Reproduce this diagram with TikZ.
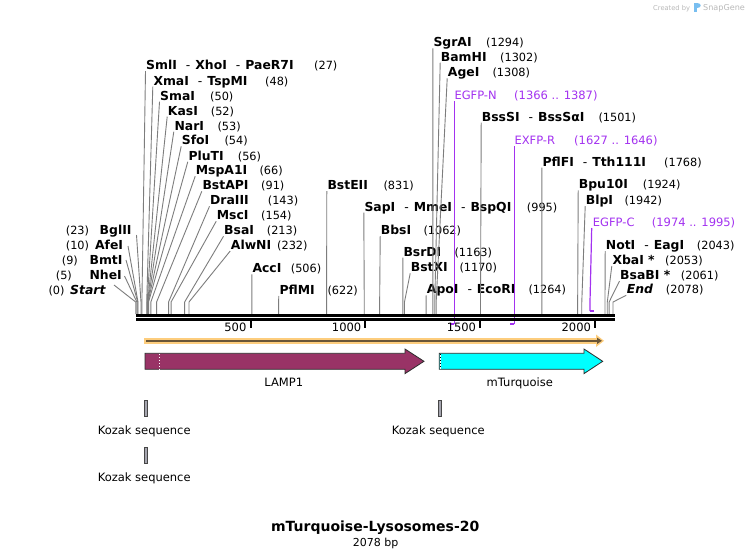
\documentclass[tikz,border=0pt]{standalone}
\usepackage{fontspec}
\setmainfont{DejaVu Sans}
\usetikzlibrary{arrows.meta}
\definecolor{sitegray}{RGB}{125,125,125}
\definecolor{primerc}{RGB}{163,50,240}
\definecolor{lampc}{RGB}{153,51,102}
\definecolor{turqc}{RGB}{0,255,255}
\definecolor{glowc}{RGB}{253,205,125}
\definecolor{corec}{RGB}{105,85,55}
\definecolor{kozfill}{RGB}{165,165,175}
\definecolor{kozdraw}{RGB}{70,70,70}
\definecolor{wmgray}{RGB}{185,185,185}
\definecolor{wmblue}{RGB}{120,190,240}
\tikzset{
  enzname/.style={anchor=base west, inner sep=0pt, font=\fontsize{12.4}{14}\selectfont\bfseries},
  enznameL/.style={anchor=base east, inner sep=0pt, font=\fontsize{12.4}{14}\selectfont\bfseries},
  enznum/.style={anchor=base west, inner sep=0pt, font=\fontsize{11.3}{13}\selectfont},
  primlbl/.style={anchor=base west, inner sep=0pt, text=primerc, font=\fontsize{11.5}{13}\selectfont},
  siteline/.style={draw=sitegray, line width=0.9pt},
  primline/.style={draw=primerc, line width=1.2pt},
  primfoot/.style={draw=primerc, line width=2pt},
  ticklbl/.style={anchor=base east, inner sep=0pt, font=\fontsize{11.5}{13}\selectfont},
  featlbl/.style={anchor=base, inner sep=0pt, font=\fontsize{11.5}{13}\selectfont},
  featbox/.style={draw={rgb,255:red,45;green,45;blue,45}, line width=0.8pt},
  kozbar/.style={fill=kozfill, draw=kozdraw, line width=0.6pt},
}
\newcommand{\dsh}{\hspace{9pt}{\mdseries -}\hspace{5pt}}
% id, bp, label x, label y (centre), name, number x, number
\newcommand{\myenz}[7]{%
  \node[enzname] (#1) at (#3,{#4+4.3}) {#5};
  \node[enznum] (#1-n) at (#6,{#4+4.3}) {(#7)};
  \coordinate (#1-t) at ({#3-0.5},{#4+6});
  \coordinate (#1-k) at ({135.7+0.2297*#2},302);
  \coordinate (#1-s) at ({135.7+0.2297*#2},314);
  \draw[siteline] (#1-t) -- (#1-k) -- (#1-s);
}
% id, bp, label right x, label y, name, number x, number, line top x, line top y
\newcommand{\myenzl}[9]{%
  \node[enznameL] (#1) at (#3,{#4+4.3}) {#5};
  \node[enznum] (#1-n) at (#6,{#4+4.3}) {(#7)};
  \coordinate (#1-t) at (#8,#9);
  \coordinate (#1-k) at ({135.7+0.2297*#2},302);
  \coordinate (#1-s) at ({135.7+0.2297*#2},314);
  \draw[siteline] (#1-t) -- (#1-k) -- (#1-s);
}
\begin{document}
\begin{tikzpicture}[x=1pt,y=-1pt]
\useasboundingbox (0,0) rectangle (751,558);
\fill[white] (0,0) rectangle (751,558);

% watermark
\node[anchor=base west, inner sep=0pt, text=wmgray, font=\fontsize{6.7}{8}\selectfont] (wm1) at (653,10) {Created by};
\fill[wmblue] (694,2.5) rectangle (697,12);
\fill[wmblue] (697,2.5) .. controls (701.5,2.5) and (701.5,8) .. (697,8) -- cycle;
\node[anchor=base west, inner sep=0pt, text=wmgray, font=\fontsize{8.1}{9}\selectfont] (wm2) at (703,10.5) {SnapGene};

% restriction sites, upper left
\myenz{sml}{27}{146}{65}{SmlI\dsh XhoI\dsh PaeR7I}{314}{27}
\myenz{xma}{48}{153.3}{80.7}{XmaI\dsh TspMI}{265}{48}
\myenz{sma}{50}{160}{95.7}{SmaI}{210}{50}
\myenz{kas}{52}{167.7}{110.7}{KasI}{210.7}{52}
\myenz{nar}{53}{174.3}{125.7}{NarI}{217.3}{53}
\myenz{sfo}{54}{181.7}{140.3}{SfoI}{224.3}{54}
\myenz{plu}{56}{188.3}{155.7}{PluTI}{237.7}{56}
\myenz{msp}{66}{195.7}{170.3}{MspA1I}{259.3}{66}
\myenz{bap}{91}{202.3}{185.3}{BstAPI}{261}{91}
\myenz{dra}{143}{210}{200.3}{DraIII}{267.7}{143}
\myenz{msc}{154}{216.7}{215.3}{MscI}{261}{154}
\myenz{bsa}{213}{224}{230.3}{BsaI}{266.7}{213}
\myenz{alw}{232}{230.7}{245}{AlwNI}{277}{232}
\myenz{acc}{506}{252.3}{268.3}{AccI}{290.7}{506}
\myenz{pfl}{622}{279.3}{290}{PflMI}{327.3}{622}
\myenz{bste}{831}{327.3}{185}{BstEII}{383.3}{831}
\myenz{sap}{995}{364.3}{206.7}{SapI\dsh MmeI\dsh BspQI}{526.7}{995}
\myenz{bbs}{1062}{380.7}{230}{BbsI}{423.3}{1062}
\myenz{bsr}{1163}{403.3}{251.7}{BsrDI}{454.3}{1163}
\myenz{bstx}{1170}{410.7}{267.3}{BstXI}{459.3}{1170}
\myenz{apo}{1264}{426.7}{289.3}{ApoI\dsh EcoRI}{528.3}{1264}
\myenz{sgr}{1294}{433.3}{42.3}{SgrAI}{486}{1294}
\myenz{bam}{1302}{440.7}{56.7}{BamHI}{500}{1302}
\myenz{age}{1308}{447.7}{72.3}{AgeI}{492.3}{1308}
\myenz{bss}{1501}{481.7}{116.7}{BssSI\dsh BssSαI}{598.3}{1501}
\myenz{pflf}{1768}{542.3}{161.7}{PflFI\dsh Tth111I}{664}{1768}
\myenz{bpu}{1924}{578.7}{184.3}{Bpu10I}{642.7}{1924}
\myenz{blp}{1942}{585.7}{200}{BlpI}{624.3}{1942}
\myenz{notI}{2043}{605.7}{245}{NotI\dsh EagI}{696.7}{2043}
\myenz{xba}{2053}{612.3}{260}{XbaI *}{665}{2053}
\myenz{bsab}{2061}{620}{275}{BsaBI *}{680.7}{2061}
\myenz{eEnd}{2078}{626.7}{289.3}{\itshape End}{665.7}{2078}

% left-side labels
\myenzl{bgl}{23}{131.7}{230.3}{BglII}{65.7}{23}{136.5}{235}
\myenzl{afe}{10}{123.3}{245}{AfeI}{65.7}{10}{128}{246}
\myenzl{bmt}{9}{122.7}{260}{BmtI}{61.7}{9}{126}{260}
\myenzl{nhe}{5}{122}{275}{NheI}{55.7}{5}{124.5}{276}
\myenzl{eStart}{0}{105.7}{290}{\itshape Start}{48.3}{0}{114}{285}

% primers
\node[primlbl] (pN) at (454.3,99.3) {EGFP-N};
\node[primlbl] (pN-n) at (514,99.3) {(1366 .. 1387)};
\coordinate (pN-t) at (454.3,101);
\coordinate (pN-b) at (454.3,324);
\coordinate (pN-f) at (449.5,324);
\draw[primline] (pN-t) -- (pN-b);
\draw[primfoot] (pN-b) -- (pN-f);

\node[primlbl] (pR) at (514.3,144.3) {EXFP-R};
\node[primlbl] (pR-n) at (574,144.3) {(1627 .. 1646)};
\coordinate (pR-t) at (514.3,146);
\coordinate (pR-b) at (514.3,324);
\coordinate (pR-f) at (510.3,324);
\draw[primline] (pR-t) -- (pR-b);
\draw[primfoot] (pR-b) -- (pR-f);

\node[primlbl] (pC) at (592.7,226) {EGFP-C};
\node[primlbl] (pC-n) at (651.7,226) {(1974 .. 1995)};
\coordinate (pC-t) at (591.7,228);
\coordinate (pC-k) at (590,302);
\coordinate (pC-b) at (590,311);
\coordinate (pC-f) at (593.5,311);
\draw[primline] (pC-t) -- (pC-k) -- (pC-b);
\draw[primfoot] (pC-b) -- (pC-f);

% backbone
\draw[line width=2.7pt] (136,315.3) -- (615,315.3);
\draw[line width=2.7pt] (136,319.4) -- (615,319.4);

% ruler ticks
\foreach \v/\lab in {500/500,1000/1000,1500/1500,2000/2000}{
  \draw[line width=2pt] ({135.7+0.2297*\v},320.5) -- ({135.7+0.2297*\v},327.5);
  \node[ticklbl] (tick\v) at ({135.7+0.2297*\v-4},331.6) {\lab};
}

% orange direction arrow
\draw[glowc, line width=5.5pt] (144,340.8) -- (599,340.8);
\fill[glowc] (596,334.5) -- (604,340.8) -- (596,347) -- cycle;
\draw[corec, line width=2.2pt, -{Triangle[length=5pt,width=6pt]}] (146,340.8) -- (602,340.8);

% LAMP1 feature
\filldraw[featbox, fill=lampc] (145,353.3) -- (405,353.3) -- (405,349) -- (424,361.3) -- (405,373.6) -- (405,369.3) -- (145,369.3) -- cycle;
\draw[white, dotted, line width=0.9pt] (159.3,354) -- (159.3,369);
\node[featlbl] (lamp) at (283.8,386) {LAMP1};

% mTurquoise feature
\filldraw[featbox, fill=turqc] (439.3,353.3) -- (584,353.3) -- (584,349) -- (602.7,361.3) -- (584,373.6) -- (584,369.3) -- (439.3,369.3) -- cycle;
\draw[white, line width=1pt] (440.5,354) -- (440.5,368.6);
\draw[black, dotted, line width=1pt] (440.5,354) -- (440.5,368.6);
\node[featlbl] (turq) at (519.8,386) {mTurquoise};

% Kozak sequences
\filldraw[kozbar] (144.2,400) rectangle (147.2,416);
\node[featlbl] (koz1) at (144.2,434.3) {Kozak sequence};
\filldraw[kozbar] (437.8,400) rectangle (440.8,416);
\node[featlbl] (koz2) at (438.3,434.3) {Kozak sequence};
\filldraw[kozbar] (144.2,447.3) rectangle (147.2,463.3);
\node[featlbl] (koz3) at (144.2,481) {Kozak sequence};

% title
\node[anchor=base, inner sep=0pt, font=\fontsize{14}{16}\selectfont\bfseries] (title) at (375.2,531.8) {mTurquoise-Lysosomes-20};
\node[anchor=base, inner sep=0pt, font=\fontsize{11}{13}\selectfont] (len) at (375.7,546.7) {2078 bp};
\end{tikzpicture}
\end{document}
